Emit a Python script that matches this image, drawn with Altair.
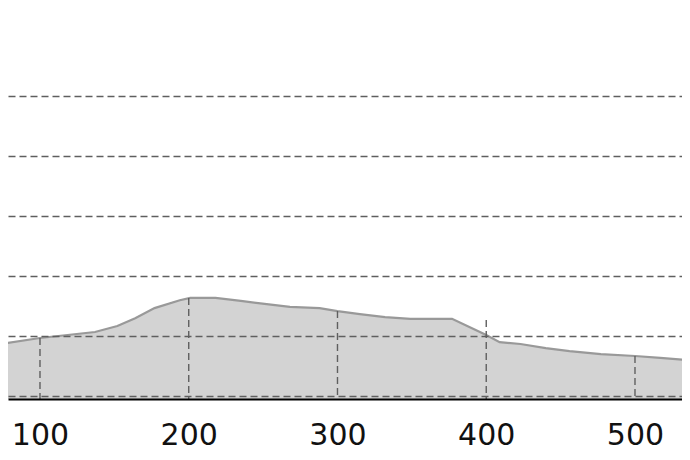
import altair as alt
import pandas as pd

# distance along the route and elevation profile
dist = [60, 73, 100, 137, 152, 164, 177, 194, 201, 218, 235, 251, 268, 288, 300,
        315, 332, 349, 377, 389, 400, 409, 423, 440, 456, 477, 500, 517, 537, 550]
elev = [84, 86, 96, 106, 116, 129, 146, 159, 163, 163, 158, 153, 148, 146, 141,
        136, 131, 128, 128, 114, 101, 89, 86, 79, 74, 69, 66, 63, 59, 57]

# marker lines at round distances, up to the profile height
mark_dist = [100, 200, 300, 400, 500]
mark_elev = [96, 163, 141, 126, 66]

x_ticks = [100, 200, 300, 400, 500]
y_grid = [0, 100, 200, 300, 400, 500]

y_min, y_max = -5.8, 647
x_min, x_max = 78.5, 531.6

profile = pd.DataFrame({'dist': dist, 'elev': elev})
markers = pd.DataFrame({'dist': mark_dist, 'elev': mark_elev})

x_scale = alt.Scale(domain=[x_min, x_max], nice=False, zero=False)
y_scale = alt.Scale(domain=[y_min, y_max], nice=False, zero=False)

area = alt.Chart(profile).mark_area(
    color='#d3d3d3', opacity=1, line={'color': '#999999', 'strokeWidth': 2.2}, clip=True
).encode(
    x=alt.X('dist:Q', scale=x_scale, title=None,
            axis=alt.Axis(values=x_ticks, grid=False, ticks=False,
                          labelFontSize=30, labelFont='DejaVu Sans', labelColor='#111111',
                          labelPadding=21, domainColor='#000000', domainWidth=2,
                          labelFlush=False, zindex=1)),
    y=alt.Y('elev:Q', scale=y_scale, title=None,
            axis=alt.Axis(values=y_grid, grid=True, gridDash=[7, 4], gridColor='#5f5f5f',
                          gridWidth=1.4, labels=False, ticks=False, domain=False, zindex=1)),
    y2=alt.datum(y_min)
)

rules = alt.Chart(markers).mark_rule(
    color='#5f5f5f', strokeDash=[7, 4], strokeWidth=1.4, clip=True
).encode(
    x='dist:Q',
    y='elev:Q',
    y2=alt.datum(y_min)
)

chart = (area + rules).properties(
    width=674, height=391, padding={'left': 0, 'top': 0, 'right': 0, 'bottom': 0}
).configure_view(strokeWidth=0)

chart.save("out.html", embed_options={"renderer": "svg", "actions": False})
